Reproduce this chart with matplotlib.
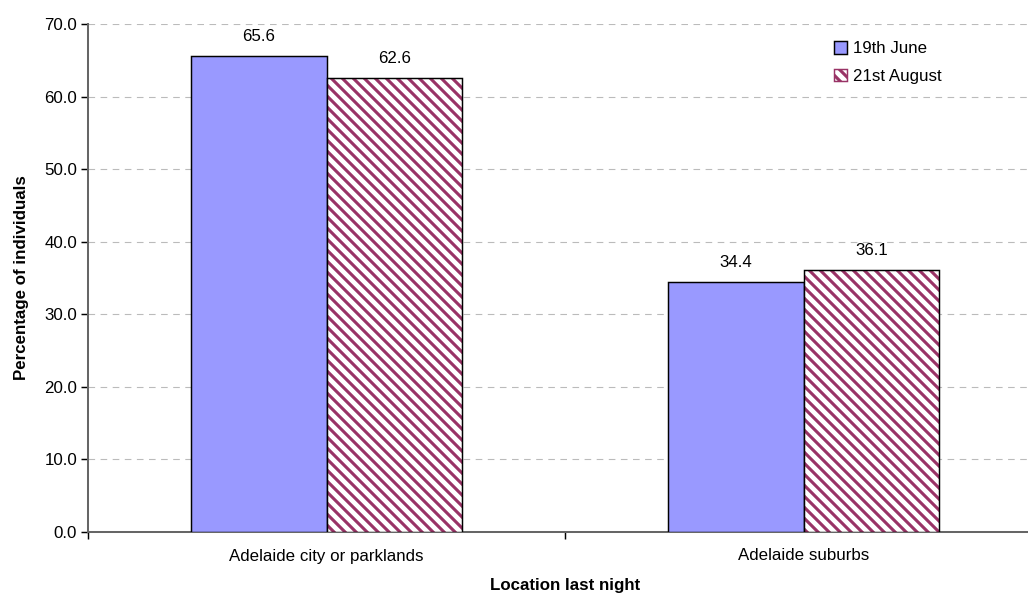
import numpy as np
import matplotlib.pyplot as plt
from matplotlib.ticker import FormatStrFormatter

plt.rcParams['font.family'] = ['Liberation Sans', 'DejaVu Sans']
plt.rcParams['hatch.linewidth'] = 1.7

categories = ['Adelaide city or parklands', 'Adelaide suburbs']
series_names = ['19th June', '21st August']
june = [65.6, 34.4]
august = [62.6, 36.1]

DPI = 132
FS = 9.2
fig = plt.figure(figsize=(1028 / DPI, 597 / DPI), dpi=DPI)
ax = fig.add_axes([88 / 1028, 1 - 532 / 597, (1042 - 88) / 1028, (532 - 24) / 597])

x = np.arange(len(categories))
w = 0.285

b1 = ax.bar(x - w / 2, june, w, color='#9999FF', edgecolor='black', linewidth=0.8,
            label=series_names[0], zorder=3)
# hatched fill in maroon, black outline drawn on top
b2 = ax.bar(x + w / 2, august, w, color='white', edgecolor='#993366', linewidth=0,
            hatch='\\\\\\\\', label=series_names[1], zorder=3)
ax.bar(x + w / 2, august, w, fill=False, edgecolor='black', linewidth=0.8, zorder=4)

for bars in (b1, b2):
    for r in bars:
        ax.annotate(f'{r.get_height():.1f}', (r.get_x() + r.get_width() / 2, r.get_height()),
                    xytext=(0, 6.5), textcoords='offset points', ha='center', va='bottom',
                    fontsize=FS)

ax.set_xlim(-0.5, 1.5)
ax.set_ylim(0, 70)
ax.set_yticks(np.arange(0, 71, 10))
ax.yaxis.set_major_formatter(FormatStrFormatter('%.1f'))
ax.set_xticks(x)
ax.set_xticklabels(categories)
ax.set_xticks([-0.5, 0.5, 1.5], minor=True)
ax.tick_params(axis='x', which='major', length=0, pad=9, labelsize=FS)
ax.tick_params(axis='x', which='minor', length=4, width=0.8, color='black')
ax.tick_params(axis='y', length=4, width=0.8, color='black', labelsize=FS, pad=2)

ax.grid(axis='y', linestyle=(0, (6, 5)), color='#BBBBBB', linewidth=0.6, zorder=0)
for s in ('top', 'right'):
    ax.spines[s].set_visible(False)
for s in ('left', 'bottom'):
    ax.spines[s].set_color('#666666')
    ax.spines[s].set_linewidth(1.1)

ax.set_ylabel('Percentage of individuals', fontsize=FS, fontweight='bold', labelpad=8)
ax.set_xlabel('Location last night', fontsize=FS, fontweight='bold', labelpad=8)

leg = ax.legend(loc='upper left', bbox_to_anchor=(819 / 1028, 1 - 26 / 597),
                bbox_transform=fig.transFigure, frameon=False, fontsize=FS,
                handlelength=0.75, handleheight=0.75, handletextpad=0.35, labelspacing=0.75)
leg.legend_handles[1].set_linewidth(0.8)

fig.savefig('out.png', dpi=DPI)
